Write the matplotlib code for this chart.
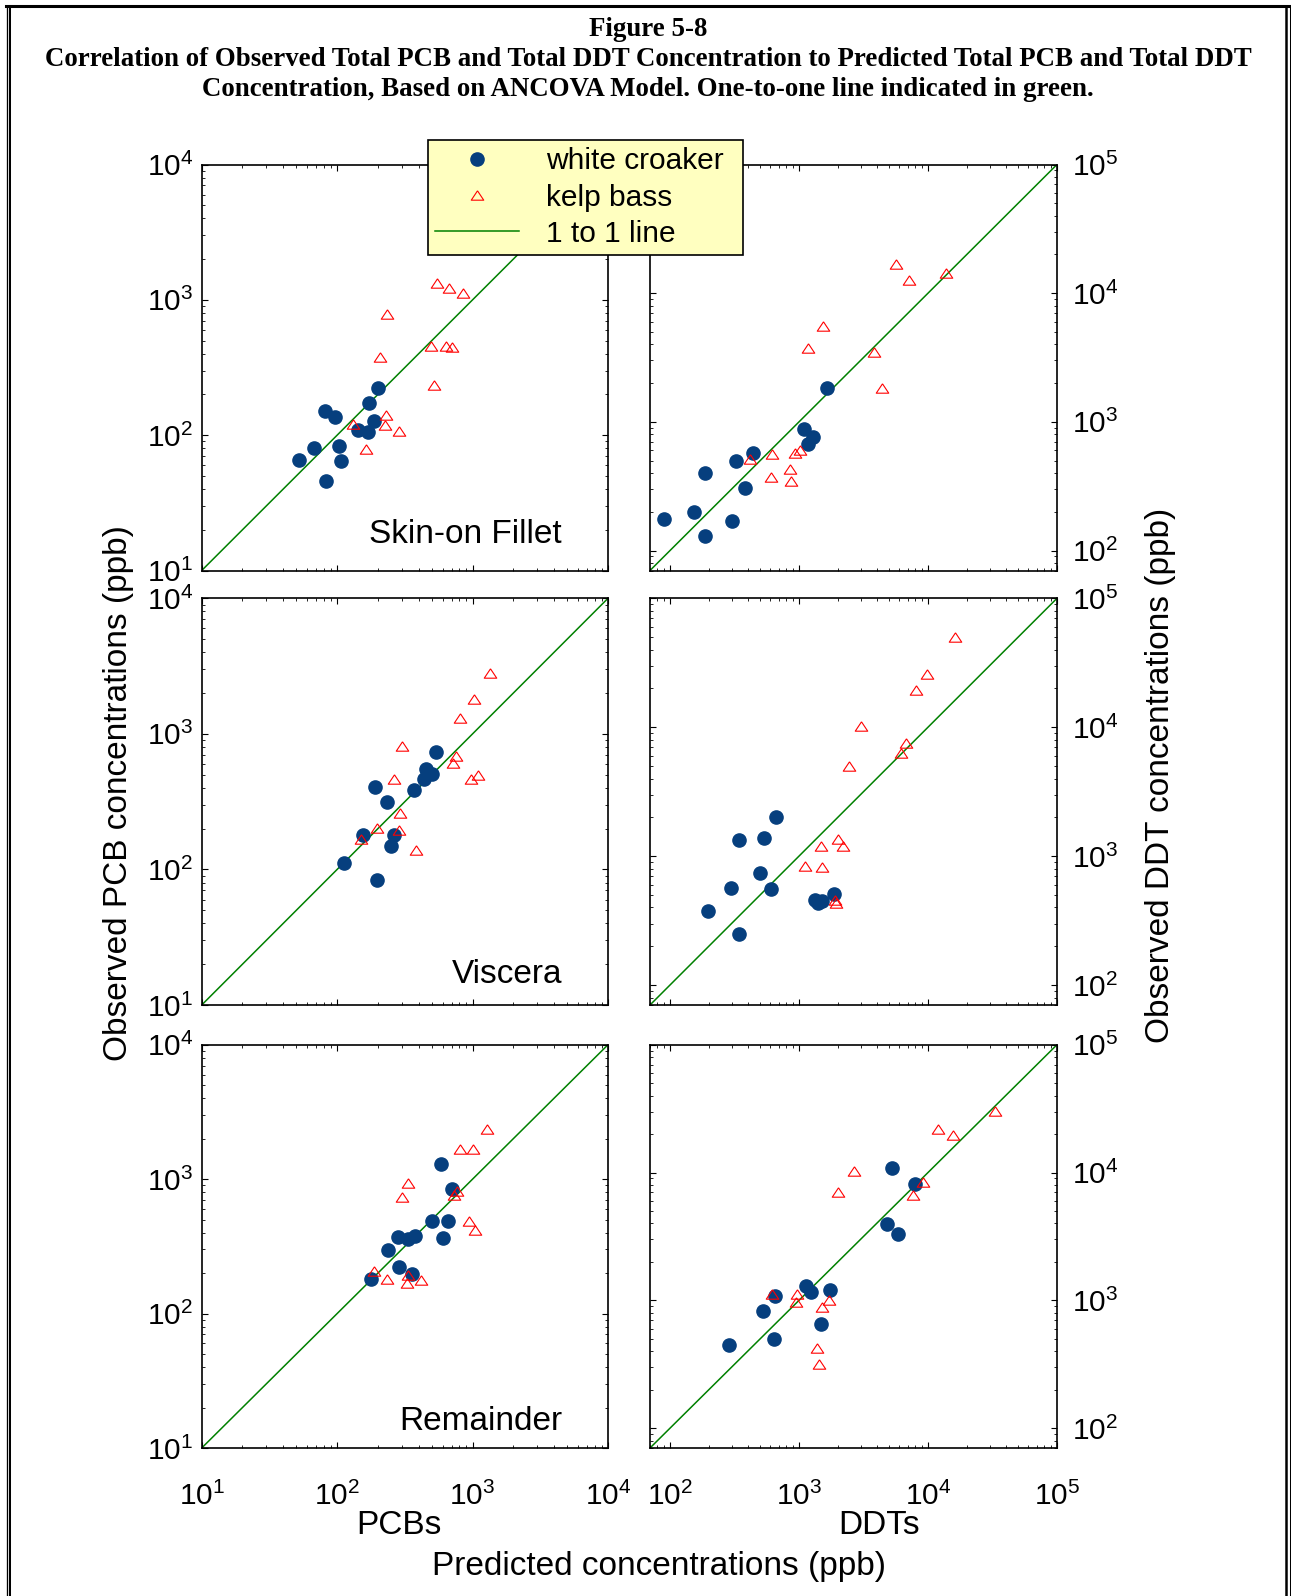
import matplotlib.pyplot as plt
from matplotlib.lines import Line2D

# canvas size in pixels (dpi 100)
W, H = 1291, 1596
plt.rcParams['font.family'] = ['Liberation Sans', 'DejaVu Sans']
plt.rcParams['mathtext.default'] = 'regular'

# ---- data: predicted (x) and observed (y) concentrations, ppb ----
# Skin-on fillet, PCBs
fillet_pcb_wc_pred = [52, 68, 83, 81, 97, 103, 106, 143, 169, 172, 186, 199]
fillet_pcb_wc_obs = [65, 80, 46, 151, 136, 83, 64, 109, 106, 173, 127, 224]
fillet_pcb_kb_pred = [543, 666, 854, 233, 206, 494, 633, 708, 520, 228, 225, 287, 131, 163]
fillet_pcb_kb_obs = [1327, 1219, 1120, 789, 380, 453, 453, 448, 235, 142, 119, 107, 120, 79]
# Skin-on fillet, DDTs
fillet_ddt_wc_pred = [90, 154, 186, 186, 303, 325, 384, 438, 1087, 1276, 1174, 1660]
fillet_ddt_wc_obs = [175, 200, 129, 403, 170, 501, 308, 569, 873, 766, 675, 1837]
fillet_ddt_kb_pred = [5610, 7130, 13800, 1535, 1174, 3837, 4426, 417, 621, 925, 1018, 847, 611, 867]
fillet_ddt_kb_obs = [16780, 12690, 14450, 5580, 3770, 3508, 1824, 511, 561, 569, 600, 433, 375, 347]
# Viscera, PCBs
viscera_pcb_wc_pred = [113, 155, 190, 196, 233, 250, 261, 372, 439, 454, 505, 540]
viscera_pcb_wc_obs = [112, 178, 403, 84, 313, 149, 181, 383, 467, 547, 502, 738]
viscera_pcb_kb_pred = [1355, 1023, 807, 299, 759, 721, 261, 973, 1094, 289, 196, 286, 151, 383]
viscera_pcb_kb_obs = [2810, 1820, 1303, 811, 681, 612, 467, 464, 500, 261, 202, 194, 168, 139]
# Viscera, DDTs
viscera_ddt_wc_pred = [198, 297, 342, 342, 499, 533, 604, 664, 1322, 1410, 1514, 1853]
viscera_ddt_wc_obs = [372, 565, 1340, 250, 743, 1380, 558, 2005, 456, 432, 448, 505]
viscera_ddt_kb_pred = [16180, 9770, 8130, 3000, 6790, 6150, 2449, 2014, 2177, 1479, 1106, 1507, 1910, 1945]
viscera_ddt_kb_obs = [49900, 25900, 19580, 10300, 7600, 6290, 5010, 1360, 1202, 1196, 841, 822, 459, 432]
# Remainder, PCBs
remainder_pcb_wc_pred = [178, 236, 281, 287, 336, 373, 360, 505, 608, 655, 585, 701]
remainder_pcb_wc_obs = [181, 297, 372, 221, 361, 380, 196, 485, 363, 488, 1297, 844]
remainder_pcb_kb_pred = [1274, 807, 1000, 336, 299, 762, 733, 944, 1047, 186, 233, 333, 327, 417]
remainder_pcb_kb_obs = [2340, 1675, 1675, 935, 733, 811, 767, 485, 419, 208, 181, 194, 170, 177]
# Remainder, DDTs
remainder_ddt_wc_pred = [285, 526, 644, 652, 1140, 1247, 1490, 1729, 4840, 5850, 5300, 7890]
remainder_ddt_wc_obs = [451, 832, 501, 1087, 1291, 1167, 659, 1202, 3955, 3300, 10940, 8070]
remainder_ddt_kb_pred = [33000, 11880, 15630, 2686, 1995, 9140, 7690, 618, 964, 948, 1698, 1517, 1380, 1420]
remainder_ddt_kb_obs = [30400, 21900, 19700, 10240, 7000, 8410, 6710, 1113, 1113, 977, 1006, 893, 427, 317]

tissues = ['Skin-on Fillet', 'Viscera', 'Remainder']
pcb_limits = (10, 1e4)
ddt_limits = (70, 1e5)

title_lines = ['Figure 5-8',
               'Correlation of Observed Total PCB and Total DDT Concentration to Predicted Total PCB and Total DDT',
               'Concentration, Based on ANCOVA Model. One-to-one line indicated in green.']

navy = '#063f7e'
green = '#008000'
tri = [(0, 0.75), (-1, -0.75), (1, -0.75), (0, 0.75)]


def rect(l, t, r, b):
    return [l / W, 1 - b / H, (r - l) / W, (b - t) / H]


fig = plt.figure(figsize=(W / 100, H / 100), dpi=100)

cols = [(201.7, 608.0), (650.0, 1057.0)]
rows = [(164.5, 570.5), (598.3, 1005.0), (1044.7, 1448.0)]

panels = [
    [(fillet_pcb_wc_pred, fillet_pcb_wc_obs, fillet_pcb_kb_pred, fillet_pcb_kb_obs),
     (fillet_ddt_wc_pred, fillet_ddt_wc_obs, fillet_ddt_kb_pred, fillet_ddt_kb_obs)],
    [(viscera_pcb_wc_pred, viscera_pcb_wc_obs, viscera_pcb_kb_pred, viscera_pcb_kb_obs),
     (viscera_ddt_wc_pred, viscera_ddt_wc_obs, viscera_ddt_kb_pred, viscera_ddt_kb_obs)],
    [(remainder_pcb_wc_pred, remainder_pcb_wc_obs, remainder_pcb_kb_pred, remainder_pcb_kb_obs),
     (remainder_ddt_wc_pred, remainder_ddt_wc_obs, remainder_ddt_kb_pred, remainder_ddt_kb_obs)],
]

for i, (top, bot) in enumerate(rows):
    for j, (left, right) in enumerate(cols):
        ax = fig.add_axes(rect(left, top, right, bot))
        wc_x, wc_y, kb_x, kb_y = panels[i][j]
        lim = pcb_limits if j == 0 else ddt_limits
        ax.set_xscale('log')
        ax.set_yscale('log')
        ax.set_xlim(lim)
        ax.set_ylim(lim)
        # one-to-one line
        ax.plot(lim, lim, color=green, lw=1.1, zorder=1)
        ax.plot(wc_x, wc_y, ls='none', marker='o', ms=9.5, color=navy, zorder=2)
        ax.plot(kb_x, kb_y, ls='none', marker=tri, ms=9, mfc='none', mec='red', mew=0.8, zorder=3)

        ax.tick_params(which='both', direction='in', top=True, right=True, left=True, bottom=True)
        ax.tick_params(which='major', length=4.5, width=0.8, labelsize=21.5)
        ax.tick_params(which='minor', length=2.3, width=0.6)
        if j == 0:
            ax.tick_params(axis='y', pad=6)
        else:
            ax.tick_params(axis='y', labelleft=False, labelright=True, pad=11)
        if i == 2:
            ax.tick_params(axis='x', pad=24)
        else:
            ax.tick_params(axis='x', labelbottom=False)
        for sp in ax.spines.values():
            sp.set_linewidth(1.2)

# tissue labels inside left panels
label_baselines = [543, 983, 1430]
for name, yb in zip(tissues, label_baselines):
    fig.text(562 / W, 1 - yb / H, name, ha='right', va='baseline', fontsize=24)

# axis titles
fig.text(118 / W, 1 - 793 / H, 'Observed PCB concentrations (ppb)', rotation=90,
         ha='center', va='center', fontsize=24)
fig.text(1160 / W, 1 - 775 / H, 'Observed DDT concentrations (ppb)', rotation=90,
         ha='center', va='center', fontsize=24)
fig.text(399 / W, 1 - 1526 / H, 'PCBs', ha='center', va='center', fontsize=24)
fig.text(879 / W, 1 - 1526 / H, 'DDTs', ha='center', va='center', fontsize=24)
fig.text(659 / W, 1 - 1566 / H, 'Predicted concentrations (ppb)', ha='center', va='center', fontsize=24)

# title block
for txt, yc in zip(title_lines, [30, 60, 89]):
    fig.text(648 / W, 1 - yc / H, txt, ha='center', va='center', fontsize=19.4,
             fontfamily='Liberation Serif', fontweight='bold')

# legend, stretched to the box width used in the original
handles = [Line2D([], [], ls='none', marker='o', ms=9.5, color=navy),
           Line2D([], [], ls='none', marker=tri, ms=9, mfc='none', mec='red', mew=0.8),
           Line2D([], [], color=green, lw=1.1)]
leg_box = (428 / W, 1 - 251 / H, 315 / W, 111 / H)
leg = fig.legend(handles, ['white croaker', 'kelp bass', '1 to 1 line'],
                 loc='upper left', bbox_to_anchor=leg_box, mode='expand', borderaxespad=0,
                 fontsize=21.5, frameon=True, fancybox=False, facecolor='#FFFFC0',
                 edgecolor='black', framealpha=1, handlelength=2.8, handletextpad=0.9,
                 borderpad=0.25, labelspacing=0.27)
leg.get_frame().set_linewidth(1.2)

# page frame
frame = [([6 / W, 1289 / W], [1 - 6 / H, 1 - 6 / H], 2.2),
         ([6.5 / W, 6.5 / W], [1 - 6 / H, 0], 0.95),
         ([9.8 / W, 9.8 / W], [1 - 6 / H, 0], 1.45),
         ([1286 / W, 1286 / W], [1 - 6 / H, 0], 1.8),
         ([1289.5 / W, 1289.5 / W], [1 - 6 / H, 0], 0.75)]
for xs, ys, lw in frame:
    fig.add_artist(Line2D(xs, ys, transform=fig.transFigure, color='black', lw=lw))

fig.savefig('out.png', dpi=100)
